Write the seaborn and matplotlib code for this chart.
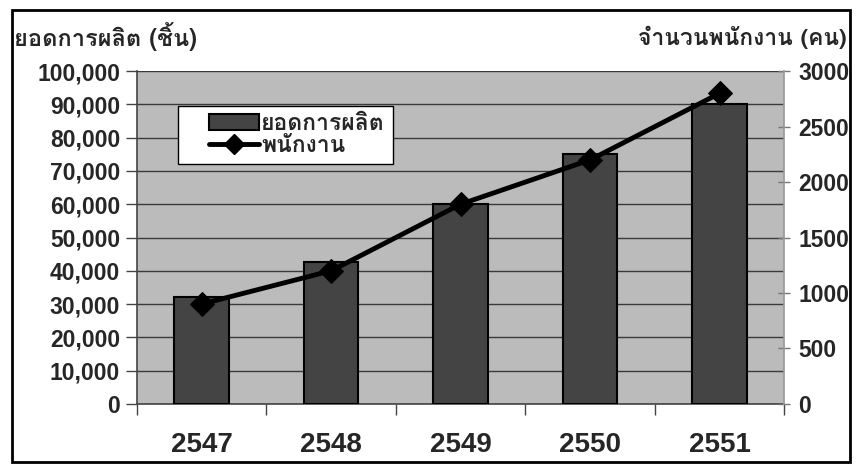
import numpy as np
import pandas as pd
import matplotlib
matplotlib.use('Agg')
import matplotlib.pyplot as plt
from matplotlib import font_manager
from matplotlib.ft2font import FT2Font
from matplotlib.patches import Rectangle
from matplotlib.lines import Line2D
from matplotlib.legend_handler import HandlerPatch, HandlerLine2D
from matplotlib.ticker import FuncFormatter, FixedLocator
import seaborn as sns

# data
years = ['2547', '2548', '2549', '2550', '2551']
production = [32000, 42500, 60000, 75000, 90000]
staff = [900, 1200, 1800, 2200, 2800]

left_title = 'ยอดการผลิต (ชิ้น)'
right_title = 'จำนวนพนักงาน (คน)'
bar_label = 'ยอดการผลิต'
line_label = 'พนักงาน'


# find an installed font that has Thai glyphs
def thai_font():
    for f in font_manager.fontManager.ttflist:
        try:
            if 0x0E22 in FT2Font(f.fname).get_charmap():
                return f.name
        except Exception:
            pass
    return 'DejaVu Sans'


sns.set_theme(style='white')
thai = thai_font()
plt.rcParams['font.family'] = ['Liberation Sans', thai, 'DejaVu Sans']
text_fam = [thai, 'Liberation Sans', 'DejaVu Sans']

df = pd.DataFrame({'year': years, 'production': production, 'staff': staff})

fig = plt.figure(figsize=(8.61, 4.68), dpi=100)
fig.patch.set_facecolor('white')
fig.add_artist(Rectangle((0.014, 0.013), 0.973, 0.966, transform=fig.transFigure,
                         fill=False, edgecolor='black', linewidth=2))

ax = fig.add_axes([0.159, 0.137, 0.752, 0.711])
ax.set_facecolor('#BBBBBB')
sns.barplot(data=df, x='year', y='production', ax=ax, color='#444444',
            width=0.42, edgecolor='black', linewidth=1.5, saturation=1, zorder=3)
ax.set_xlim(-0.5, len(years) - 0.5)
ax.set_ylim(0, 100000)
ax.set_yticks(np.arange(0, 100001, 10000))
ax.yaxis.set_major_formatter(FuncFormatter(lambda v, p: f'{int(v):,}'))
ax.grid(axis='y', color='#3a3a3a', linewidth=1, zorder=1)
ax.set_axisbelow(True)
ax.set_xlabel('')
ax.set_ylabel('')
ax.xaxis.set_minor_locator(FixedLocator(np.arange(-0.5, len(years), 1)))
ax.tick_params(axis='x', which='major', length=0, pad=20, labelsize=20)
ax.tick_params(axis='x', which='minor', length=8, width=1, direction='out', color='#444444', bottom=True)
ax.tick_params(axis='y', length=8, width=1, direction='out', color='#444444', left=True, labelsize=16.5, pad=4)
for lab in ax.get_xticklabels() + ax.get_yticklabels():
    lab.set_fontweight('bold')
for s in ['top', 'right']:
    ax.spines[s].set_visible(False)
for s in ['left', 'bottom']:
    ax.spines[s].set_color('#444444')
    ax.spines[s].set_linewidth(1.2)

ax2 = ax.twinx()
sns.lineplot(x=np.arange(len(years)), y=staff, ax=ax2, color='black', linewidth=3.5,
             marker='D', markersize=12, markeredgecolor='black', zorder=5)
ax2.set_ylim(0, 3000)
ax2.set_yticks(np.arange(0, 3001, 500))
ax2.tick_params(axis='y', length=8, width=1, direction='inout', color='#777777', right=True, labelsize=16.5, pad=6)
for lab in ax2.get_yticklabels():
    lab.set_fontweight('bold')
for s in ['top', 'left', 'bottom']:
    ax2.spines[s].set_visible(False)
ax2.spines['right'].set_color('#9a9a9a')

fig.text(0.016, 0.921, left_title, ha='left', va='center', fontsize=17, fontweight='bold', family=text_fam)
fig.text(0.983, 0.921, right_title, ha='right', va='center', fontsize=16.5, fontweight='bold', family=text_fam)

# legend: handles pushed right inside the box like the original
bar_handle = Rectangle((0, 0), 1, 1, facecolor='#444444', edgecolor='black', linewidth=1.5)
line_handle = Line2D([0], [0], color='black', linewidth=3.5, marker='D', markersize=10)
leg = ax2.legend([bar_handle, line_handle], [bar_label, line_label], loc='upper left',
                 bbox_to_anchor=(0.063, 0.895),
                 handler_map={Rectangle: HandlerPatch(xpad=1.0), Line2D: HandlerLine2D(xpad=1.0)},
                 frameon=True, fancybox=False, framealpha=1, edgecolor='black', facecolor='white',
                 prop={'family': text_fam, 'weight': 'bold', 'size': 16.5}, handlelength=3.2,
                 handletextpad=0.1, borderpad=0.35, labelspacing=0.1, borderaxespad=0)
leg.get_frame().set_linewidth(1)

fig.savefig('out.png', dpi=100, facecolor='white')
